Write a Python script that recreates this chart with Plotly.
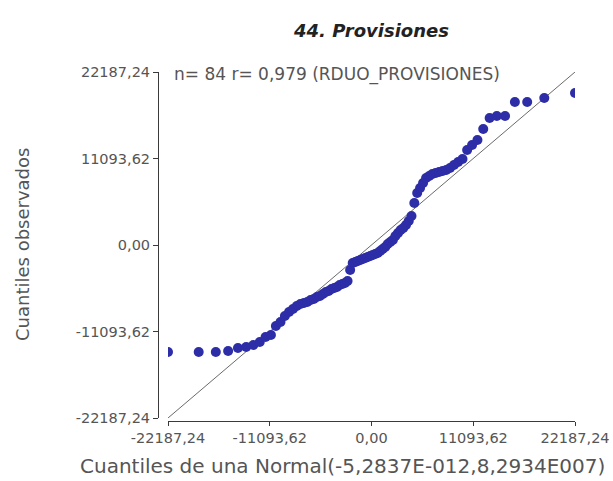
import plotly.graph_objects as go

# Normal Q-Q plot of the residuals RDUO_PROVISIONES (n = 84)
title_text = "44. Provisiones"
stats_text = "n= 84 r= 0,979 (RDUO_PROVISIONES)"
x_title = "Cuantiles de una Normal(-5,2837E-012,8,2934E007)"
y_title = "Cuantiles observados"

axis_lim = 22187.24
tick_values = [-22187.24, -11093.62, 0.0, 11093.62, 22187.24]
tick_labels = ["-22187,24", "-11093,62", "0,00", "11093,62", "22187,24"]

# Theoretical normal quantiles (upper half; lower half is the mirror image)
theoretical_upper = [
    136, 406, 678, 951, 1223, 1497, 1772, 2049, 2328, 2609,
    2893, 3179, 3469, 3762, 4059, 4360, 4667, 4979, 5297, 5621,
    5952, 6292, 6641, 7000, 7369, 7752, 8148, 8561, 8992, 9445,
    9922, 10426, 10967, 11548, 12182, 12880, 13663, 14563, 15632, 16975,
    18839, 22187,
]
theoretical = [-v for v in reversed(theoretical_upper)] + theoretical_upper

# Ordered observed residuals
observed = [
    -13723, -13723, -13723, -13595, -13210, -13082, -12825, -12440, -11799, -11543,
    -10388, -9875, -9106, -8593, -8208, -7823, -7567, -7439, -7310, -7054,
    -6926, -6669, -6541, -6284, -6028, -5900, -5643, -5515, -5387, -5130,
    -5002, -4874, -4617, -3206, -2309, -2180, -2052, -1924, -1796, -1667,
    -1539, -1411, -1283, -1154, -1026, -770, -513, -257, 128, 385,
    641, 1154, 1539, 1924, 2180, 2565, 3078, 3719, 5387, 6669,
    7310, 7952, 8593, 8849, 9106, 9234, 9362, 9491, 9619, 9875,
    10260, 10645, 11030, 12184, 12825, 13466, 14877, 16288, 16544, 16544,
    18340, 18340, 18853, 19494,
]

text_grey = "#555555"
axis_grey = "#3a3a3a"
font_family = "DejaVu Sans, Arial, sans-serif"

# Figure geometry (pixels)
W, H = 613, 481
M_L, M_R, M_T, M_B = 158, 38, 72, 60
PW, PH = W - M_L - M_R, H - M_T - M_B


def px(x):
    return (x - M_L) / PW


def py(y):
    return (H - M_B - y) / PH


fig = go.Figure()

# Reference line y = x
fig.add_trace(go.Scatter(
    x=[-axis_lim, axis_lim], y=[-axis_lim, axis_lim],
    mode="lines", line=dict(color="#6a6a6a", width=1),
    hoverinfo="skip", showlegend=False,
))

fig.add_trace(go.Scatter(
    x=theoretical, y=observed, mode="markers",
    marker=dict(size=10, color="#2d2da8", line=dict(width=0)),
    showlegend=False,
))

axis_common = dict(
    range=[-axis_lim, axis_lim], anchor="free", position=0.0,
    tickmode="array", tickvals=tick_values, ticktext=tick_labels,
    showgrid=False, zeroline=False, automargin=False,
    ticklabeloverflow="allow",
    showline=True, linecolor=axis_grey, linewidth=1,
    ticks="outside", tickcolor=axis_grey,
    tickfont=dict(size=14.5, color=text_grey, family=font_family),
)

fig.update_layout(
    template="none",
    width=W, height=H,
    margin=dict(l=M_L, r=M_R, t=M_T, b=M_B, pad=0),
    paper_bgcolor="white", plot_bgcolor="white",
    font=dict(family=font_family, color=text_grey, size=14),
    xaxis=dict(domain=[px(168), 1.0], ticklen=4, **axis_common),
    yaxis=dict(domain=[py(418), 1.0], ticklen=5, **axis_common),
    annotations=[
        dict(text=title_text, x=px(371), y=py(30), xref="paper", yref="paper",
             xanchor="center", yanchor="middle", showarrow=False,
             font=dict(size=18, color="#222222", family=font_family,
                       weight="bold", style="italic")),
        dict(text=stats_text, x=px(172), y=py(74), xref="paper", yref="paper",
             xanchor="left", yanchor="middle", showarrow=False,
             font=dict(size=17, color=text_grey, family=font_family)),
        dict(text=x_title, x=px(342), y=py(466), xref="paper", yref="paper",
             xanchor="center", yanchor="middle", showarrow=False,
             font=dict(size=20, color=text_grey, family=font_family)),
        dict(text=y_title, x=px(22), y=py(245), xref="paper", yref="paper",
             xanchor="center", yanchor="middle", showarrow=False, textangle=-90,
             font=dict(size=18, color=text_grey, family=font_family)),
    ],
)

fig.write_html("out.html")
